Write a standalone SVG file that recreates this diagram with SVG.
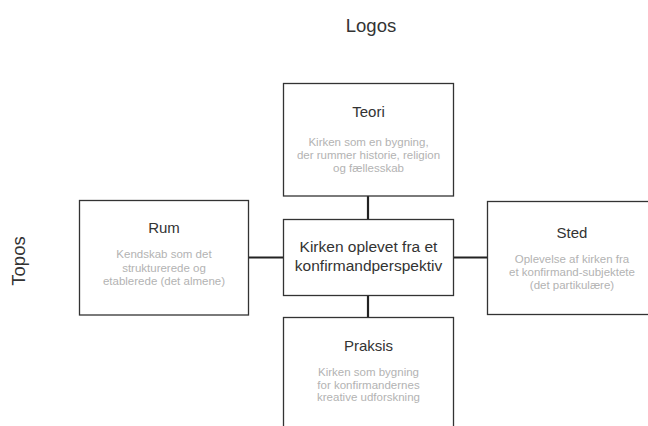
<svg xmlns="http://www.w3.org/2000/svg" width="648" height="426" viewBox="0 0 648 426">
<style>
.box{fill:#fff;stroke:#333;stroke-width:1.3}
.ttl{font-family:"Liberation Sans",Arial,sans-serif;font-size:15px;fill:#333;text-anchor:middle}
.sub{font-family:"Liberation Sans",Arial,sans-serif;font-size:11.5px;fill:#b3b3b3;text-anchor:middle}
.axis{font-family:"Liberation Sans",Arial,sans-serif;font-size:18.5px;fill:#333;text-anchor:middle}
.ctr{font-family:"Liberation Sans",Arial,sans-serif;font-size:15.5px;fill:#333;text-anchor:middle}
.conn{stroke:#222;stroke-width:2.2;fill:none}
</style>
<rect width="648" height="426" fill="#fff"/>
<text class="axis" x="371" y="32">Logos</text>
<text class="axis" transform="translate(25,261) rotate(-90)">Topos</text>
<g id="connectors">
<line class="conn" x1="368" y1="196" x2="368" y2="219"/>
<line class="conn" x1="368" y1="295" x2="368" y2="317"/>
<line class="conn" x1="248" y1="257.5" x2="283" y2="257.5"/>
<line class="conn" x1="453" y1="257.5" x2="487" y2="257.5"/>
</g>
<g id="teori">
<rect class="box" x="283.5" y="83.5" width="170" height="112.5"/>
<text class="ttl" x="368.5" y="116.7">Teori</text>
<text class="sub" x="368.5" y="145.7">Kirken som en bygning,</text>
<text class="sub" x="368.5" y="158.7">der rummer historie, religion</text>
<text class="sub" x="368.5" y="171.7">og fællesskab</text>
</g>
<g id="rum">
<rect class="box" x="79.5" y="200.5" width="169" height="114.5"/>
<text class="ttl" x="164" y="232.5">Rum</text>
<text class="sub" x="164" y="258.3">Kendskab som det</text>
<text class="sub" x="164" y="271.7">strukturerede og</text>
<text class="sub" x="164" y="285">etablerede (det almene)</text>
</g>
<g id="center">
<rect class="box" x="283.5" y="219.5" width="170" height="76"/>
<text class="ctr" x="368.5" y="252.3">Kirken oplevet fra et</text>
<text class="ctr" x="368.5" y="271">konfirmandperspektiv</text>
</g>
<g id="sted">
<rect class="box" x="487.5" y="201.5" width="170" height="113"/>
<text class="ttl" x="572" y="237.5">Sted</text>
<text class="sub" x="572" y="262.7">Oplevelse af kirken fra</text>
<text class="sub" x="572" y="275.7">et konfirmand-subjektete</text>
<text class="sub" x="572" y="288.7">(det partikulære)</text>
</g>
<g id="praksis">
<rect class="box" x="283.5" y="317.5" width="170" height="120"/>
<text class="ttl" x="368.5" y="351">Praksis</text>
<text class="sub" x="368.5" y="375.7">Kirken som bygning</text>
<text class="sub" x="368.5" y="388.5">for konfirmandernes</text>
<text class="sub" x="368.5" y="401">kreative udforskning</text>
</g>
</svg>
